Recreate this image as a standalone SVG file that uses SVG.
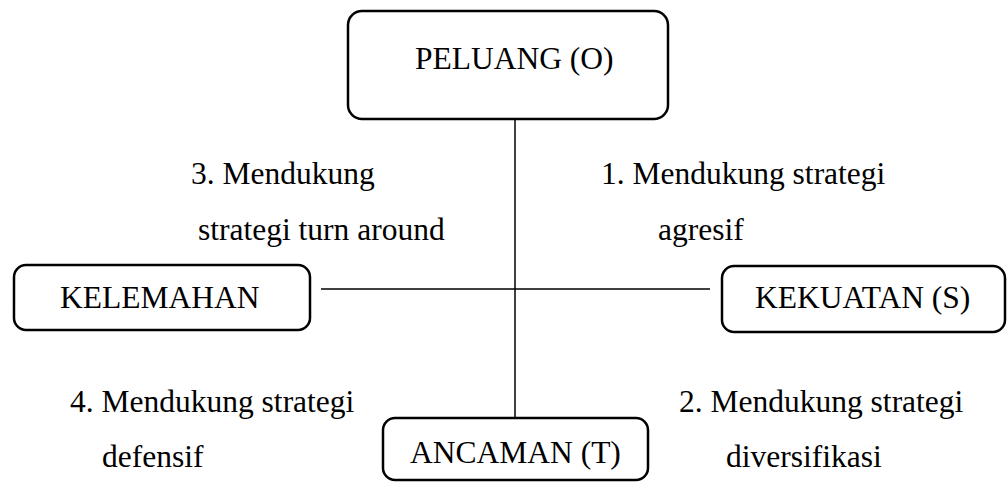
<svg xmlns="http://www.w3.org/2000/svg" width="1008" height="484" viewBox="0 0 1008 484">
<style>
.box{fill:#fff;stroke:#000;stroke-width:2.5}
.t{font-family:"Liberation Serif","Times New Roman",serif;font-size:31.5px;fill:#000}
.c{stroke:#000;stroke-width:1.5;fill:none}
</style>
<rect width="1008" height="484" fill="#fff"/>
<g id="connectors">
<line class="c" x1="515" y1="119" x2="515" y2="418"/>
<line class="c" x1="321" y1="289" x2="710" y2="289"/>
</g>
<g id="peluang">
<rect class="box" x="348" y="11" width="320" height="108" rx="14"/>
<text class="t" x="415" y="69">PELUANG (O)</text>
</g>
<g id="kelemahan">
<rect class="box" x="14" y="265" width="296" height="65" rx="12"/>
<text class="t" x="60" y="308">KELEMAHAN</text>
</g>
<g id="kekuatan">
<rect class="box" x="722" y="266" width="283" height="66" rx="12"/>
<text class="t" x="755" y="308">KEKUATAN (S)</text>
</g>
<g id="ancaman">
<rect class="box" x="383" y="418" width="265" height="62" rx="12"/>
<text class="t" x="410" y="463">ANCAMAN (T)</text>
</g>
<g id="labels">
<text class="t" x="191" y="184">3. Mendukung</text>
<text class="t" x="198" y="240">strategi turn around</text>
<text class="t" x="601" y="184">1. Mendukung strategi</text>
<text class="t" x="658" y="240">agresif</text>
<text class="t" x="70" y="412">4. Mendukung strategi</text>
<text class="t" x="102" y="467">defensif</text>
<text class="t" x="679" y="412">2. Mendukung strategi</text>
<text class="t" x="726" y="467">diversifikasi</text>
</g>
</svg>
